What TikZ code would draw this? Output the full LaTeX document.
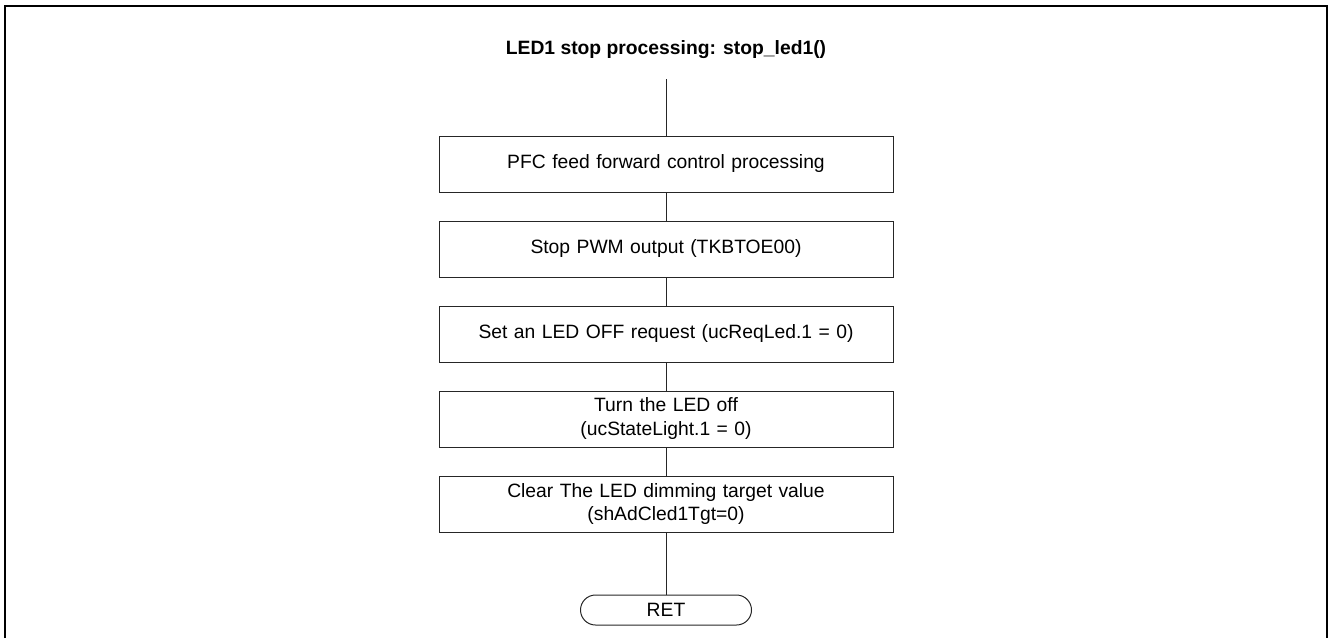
\documentclass[tikz,border=0pt]{standalone}
\usepackage{fontspec}
\setmainfont{Liberation Sans}
\usetikzlibrary{shapes.misc}
\begin{document}
\begin{tikzpicture}[x=1pt,y=-1pt,
  every node/.style={font=\fontsize{19.3}{24}\selectfont, inner sep=0pt},
  procbox/.style={draw=black!85, line width=1pt, minimum width=454pt, minimum height=56pt, align=center, text width=440pt},
  termbox/.style={draw=black!85, line width=1pt, rounded rectangle, minimum width=171pt, minimum height=30pt},
  link/.style={draw=black!85, line width=1pt}]
  \useasboundingbox (0,0) rectangle (1328,638);
  % open frame
  \draw[line width=2pt] (5,638) -- (5,6) -- (1327,6) -- (1327,638);
  % title
  \node[font=\fontsize{19.3}{24}\selectfont\bfseries] (title) at (666,50) {LED1 stop processing: stop\_led1()};
  \coordinate (start) at (666,79);
  % steps
  \node[procbox] (s1) at (666,164) {PFC feed forward control processing};
  \node[procbox] (s2) at (666,249) {Stop PWM output (TKBTOE00)};
  \node[procbox] (s3) at (666,334) {Set an LED OFF request (ucReqLed.1 = 0)};
  \node[procbox] (s4) at (666,419) {Turn the LED off\\(ucStateLight.1 = 0)};
  \node[procbox] (s5) at (666,504) {Clear The LED dimming target value\\(shAdCled1Tgt=0)};
  \node[termbox] (ret) at (666,610) {RET};
  % connectors
  \draw[link] (start) -- (s1);
  \draw[link] (s1) -- (s2);
  \draw[link] (s2) -- (s3);
  \draw[link] (s3) -- (s4);
  \draw[link] (s4) -- (s5);
  \draw[link] (s5) -- (ret);
\end{tikzpicture}
\end{document}
